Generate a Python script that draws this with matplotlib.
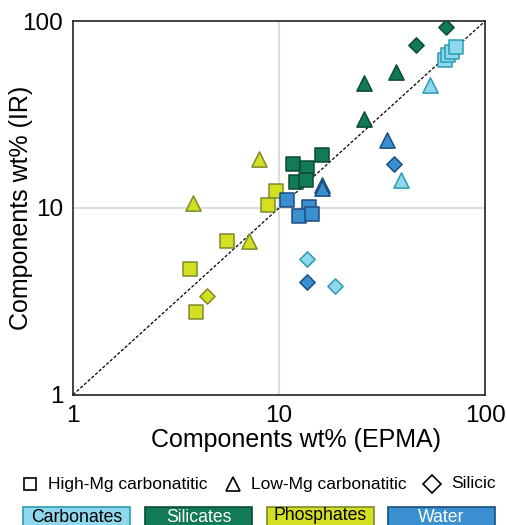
import matplotlib.pyplot as plt
from matplotlib.lines import Line2D
from matplotlib.patches import Rectangle

plt.rcParams["font.family"] = ["Liberation Sans", "DejaVu Sans"]

# Component groups: (fill colour, edge colour, label text colour)
groups = ["Carbonates", "Silicates", "Phosphates", "Water"]
fills = {"Carbonates": "#8fd7ec", "Silicates": "#127a55",
         "Phosphates": "#d4df22", "Water": "#3a8fd1"}
edges = {"Carbonates": "#2a9cb2", "Silicates": "#0b4a33",
         "Phosphates": "#7d8a2c", "Water": "#1b4d7e"}
text_cols = {"Carbonates": "black", "Silicates": "white",
             "Phosphates": "black", "Water": "white"}

# EPMA (x) vs IR (y), per group and melt type
carb_hmg_x = [64, 66, 69, 72]
carb_hmg_y = [62, 66, 68, 72.5]
carb_lmg_x = [54, 39]
carb_lmg_y = [45.5, 14.1]
carb_sil_x = [13.7, 18.7]
carb_sil_y = [5.3, 3.8]

sil_hmg_x = [11.7, 16.2, 13.7, 12.1, 13.5]
sil_hmg_y = [17.2, 19.2, 16.4, 13.8, 14.1]
sil_lmg_x = [37, 25.9, 25.9]
sil_lmg_y = [53.4, 46.6, 29.9]
sil_sil_x = [64.7, 46.2]
sil_sil_y = [93, 74.4]

pho_hmg_x = [9.67, 8.85, 5.6, 3.7, 3.95]
pho_hmg_y = [12.3, 10.4, 6.66, 4.72, 2.78]
pho_lmg_x = [8.0, 3.83, 7.15]
pho_lmg_y = [18.3, 10.6, 6.66]
pho_sil_x = [4.47]
pho_sil_y = [3.38]

wat_hmg_x = [10.9, 14.0, 12.5, 14.5]
wat_hmg_y = [11.0, 10.1, 9.06, 9.29]
wat_lmg_x = [33.4, 16.2, 16.2]
wat_lmg_y = [23.1, 13.3, 12.8]
wat_sil_x = [36.2, 13.7]
wat_sil_y = [17.2, 4.02]

data = {
    "Carbonates": [(carb_hmg_x, carb_hmg_y), (carb_lmg_x, carb_lmg_y), (carb_sil_x, carb_sil_y)],
    "Silicates": [(sil_hmg_x, sil_hmg_y), (sil_lmg_x, sil_lmg_y), (sil_sil_x, sil_sil_y)],
    "Phosphates": [(pho_hmg_x, pho_hmg_y), (pho_lmg_x, pho_lmg_y), (pho_sil_x, pho_sil_y)],
    "Water": [(wat_hmg_x, wat_hmg_y), (wat_lmg_x, wat_lmg_y), (wat_sil_x, wat_sil_y)],
}
markers = ["s", "^", "D"]
sizes = [100, 120, 60]
melt_labels = ["High-Mg carbonatitic", "Low-Mg carbonatitic", "Silicic"]

fig = plt.figure(figsize=(5.07, 5.25), dpi=100)
ax = fig.add_axes([0.144, 0.248, 0.813, 0.712])

ax.axvline(10, color="#dddddd", lw=1.5, zorder=0)
ax.axhline(10, color="#dddddd", lw=1.5, zorder=0)
ax.plot([1, 100], [1, 100], ls=(0, (2.5, 1.5)), color="black", lw=0.9, zorder=1)

for g in groups:
    for (xs, ys), m, s in zip(data[g], markers, sizes):
        ax.scatter(xs, ys, marker=m, s=s, c=fills[g], edgecolors=edges[g],
                   linewidths=1.1, zorder=3)

ax.set_xscale("log")
ax.set_yscale("log")
ax.set_xlim(1, 100)
ax.set_ylim(1, 100)
ax.set_xticks([1, 10, 100])
ax.set_yticks([1, 10, 100])
ax.set_xticklabels(["1", "10", "100"])
ax.set_yticklabels(["1", "10", "100"])
ax.minorticks_off()
ax.tick_params(length=0, labelsize=17.5, pad=7)
for sp in ax.spines.values():
    sp.set_linewidth(1.2)
    sp.set_color("#222222")
ax.set_xlabel("Components wt% (EPMA)", fontsize=18)
ax.set_ylabel("Components wt% (IR)", fontsize=18)
ax.xaxis.set_label_coords(0.541, -0.088)
ax.yaxis.set_label_coords(-0.097, 0.5)

# marker-shape legend row
W, H = 507, 525
row_y = 1 - 484 / H
for m, lab, mx, ms, tx in zip(markers, melt_labels, [30, 233, 432], [9, 10, 9],
                              [48, 251, 451]):
    fig.add_artist(Line2D([mx / W], [row_y], marker=m, ms=ms, mfc="white",
                          mec="black", mew=1.2, transform=fig.transFigure))
    fig.text(tx / W, row_y, lab, fontsize=12.5, va="center", ha="left")

# colour boxes row
box_left = [23, 145, 267, 388]
text_y = [518, 518, 515, 518]
for g, bx, ty in zip(groups, box_left, text_y):
    fig.add_artist(Rectangle((bx / W, 1 - 540 / H), 107 / W, 33 / H,
                             facecolor=fills[g], edgecolor=edges[g], lw=1.2,
                             transform=fig.transFigure))
    fig.text((bx + 53.5) / W, 1 - ty / H, g, fontsize=12.7, ha="center",
             va="center", color=text_cols[g])

fig.savefig("out.png", dpi=100)
